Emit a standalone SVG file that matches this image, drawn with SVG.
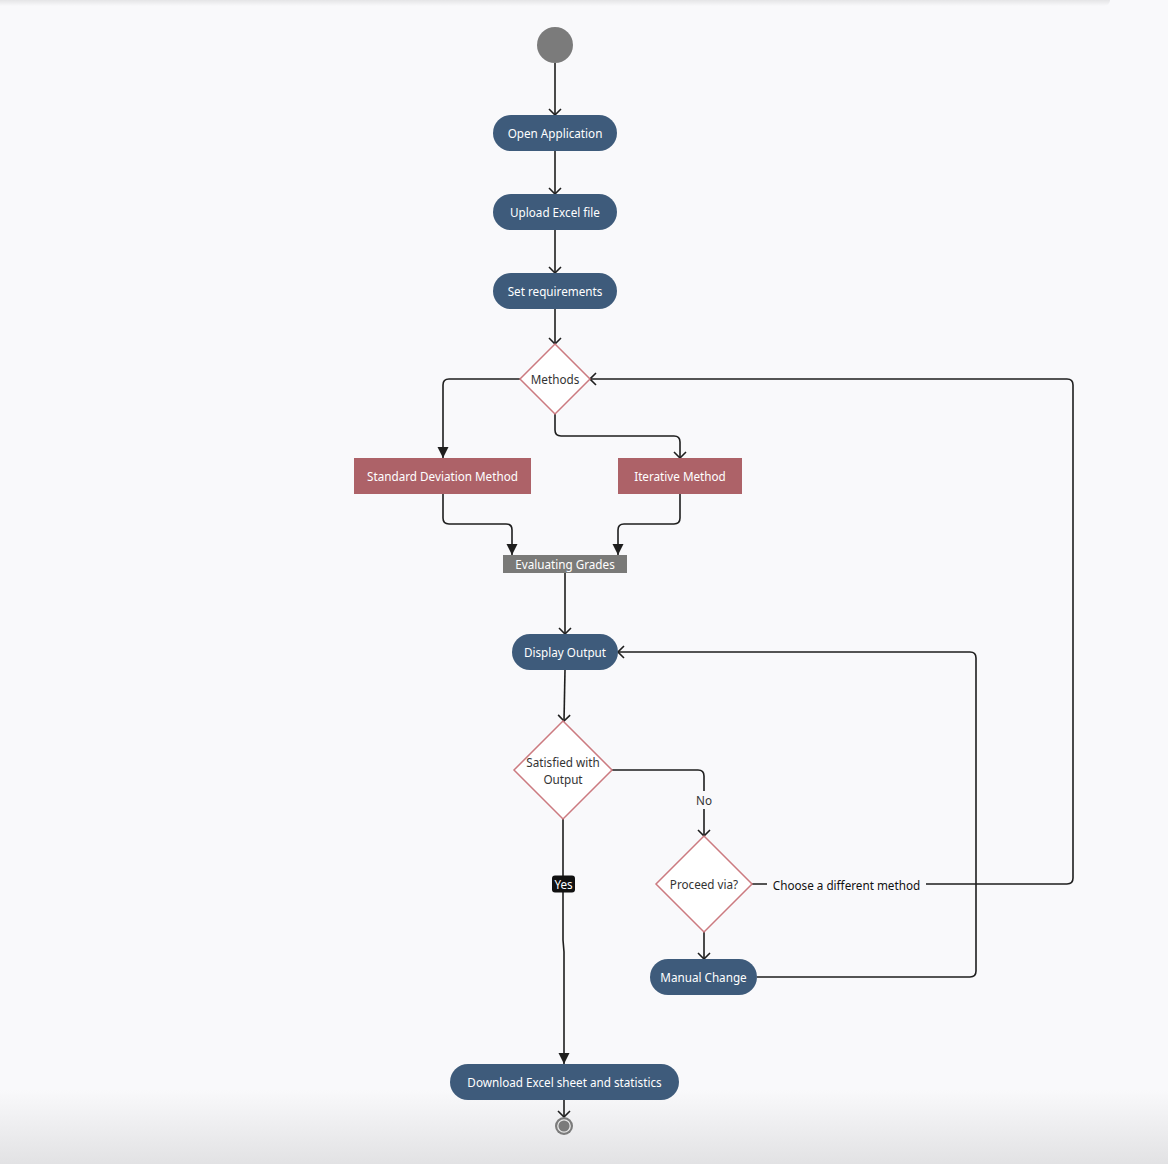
<svg xmlns="http://www.w3.org/2000/svg" width="1168" height="1164" viewBox="0 0 1168 1164">
<defs>
<linearGradient id="topShadow" x1="0" y1="0" x2="0" y2="1">
<stop offset="0" stop-color="#000" stop-opacity="0.22"/>
<stop offset="1" stop-color="#000" stop-opacity="0"/>
</linearGradient>
<linearGradient id="bottomFade" x1="0" y1="0" x2="0" y2="1">
<stop offset="0" stop-color="#f9f9fb"/>
<stop offset="1" stop-color="#e2e2e4"/>
</linearGradient>
<marker id="open" markerUnits="userSpaceOnUse" viewBox="0 0 8 14" refX="7" refY="7" markerWidth="8" markerHeight="14" orient="auto">
<path d="M1,1 L7,7 L1,13" fill="none" stroke="#1e1e1e" stroke-width="1.6"/>
</marker>
<marker id="filled" markerUnits="userSpaceOnUse" viewBox="0 0 11 12" refX="11" refY="6" markerWidth="11" markerHeight="12" orient="auto">
<path d="M0,0.5 L11,6 L0,11.5 z" fill="#1e1e1e"/>
</marker>
<style>
.edge{fill:none;stroke:#1e1e1e;stroke-width:1.6}
.act{fill:#3e5b7b}
.proc{fill:#ad6268}
.dec{fill:#fff;stroke:#cc7a80;stroke-width:1.5}
.lt{font-family:"Noto Sans","Open Sans","DejaVu Sans",sans-serif;font-size:11.7px;fill:#fff;text-anchor:middle;dominant-baseline:central}
.dt{font-family:"Noto Sans","Open Sans","DejaVu Sans",sans-serif;font-size:11.7px;fill:#333;text-anchor:middle;dominant-baseline:central}
.el{font-family:"Noto Sans","Open Sans","DejaVu Sans",sans-serif;font-size:11.7px;fill:#111;text-anchor:middle;dominant-baseline:central}
</style>
</defs>
<rect x="0" y="0" width="1168" height="1164" fill="#f9f9fb"/>
<rect x="0" y="1090" width="1168" height="74" fill="url(#bottomFade)"/>
<rect x="-10" y="-10" width="1120" height="16" rx="6" fill="url(#topShadow)"/>

<g id="connectors">
<path class="edge" d="M555,63 L555,115" marker-end="url(#open)"/>
<path class="edge" d="M555,151 L555,194" marker-end="url(#open)"/>
<path class="edge" d="M555,230 L555,273" marker-end="url(#open)"/>
<path class="edge" d="M555,309 L555,344" marker-end="url(#open)"/>
<path class="edge" d="M520,379 L449,379 Q443,379 443,385 L443,458" marker-end="url(#filled)"/>
<path class="edge" d="M555,414 L555,430 Q555,436 561,436 L674,436 Q680,436 680,442 L680,458" marker-end="url(#open)"/>
<path class="edge" d="M443,494 L443,518 Q443,524 449,524 L506,524 Q512,524 512,530 L512,555" marker-end="url(#filled)"/>
<path class="edge" d="M680,494 L680,518 Q680,524 674,524 L624,524 Q618,524 618,530 L618,555" marker-end="url(#filled)"/>
<path class="edge" d="M565,573 L565,634" marker-end="url(#open)"/>
<path class="edge" d="M565,670 L564,721" marker-end="url(#open)"/>
<path class="edge" d="M612,770 L698,770 Q704,770 704,776 L704,836" marker-end="url(#open)"/>
<path class="edge" d="M752,884 L1067,884 Q1073,884 1073,878 L1073,385 Q1073,379 1067,379 L590,379" marker-end="url(#open)"/>
<path class="edge" d="M704,932 L704,959" marker-end="url(#open)"/>
<path class="edge" d="M757,977 L970,977 Q976,977 976,971 L976,658 Q976,652 970,652 L618,652" marker-end="url(#open)"/>
<path class="edge" d="M563,819 L563,940 L564,952 L564,1064" marker-end="url(#filled)"/>
<path class="edge" d="M564,1100 L564,1117" marker-end="url(#open)"/>
<rect x="693" y="791" width="22" height="18" fill="#f9f9fb"/>
<text class="dt" x="704" y="800">No</text>
<rect x="767" y="876" width="159" height="18" fill="#f9f9fb"/>
<text class="el" x="846.500" y="885">Choose a different method</text>
<rect x="552" y="875.500" width="23" height="17" rx="3" fill="#111"/>
<text class="lt" x="563.500" y="884">Yes</text>
</g>

<g id="start"><circle cx="555" cy="45" r="18" fill="#7b7b7b"/></g>
<g id="open-application"><rect class="act" x="493" y="115" width="124" height="36" rx="18"/><text class="lt" x="555" y="133">Open Application</text></g>
<g id="upload-excel"><rect class="act" x="493" y="194" width="124" height="36" rx="18"/><text class="lt" x="555" y="212">Upload Excel file</text></g>
<g id="set-requirements"><rect class="act" x="493" y="273" width="124" height="36" rx="18"/><text class="lt" x="555" y="291">Set requirements</text></g>
<g id="methods"><polygon class="dec" points="555,344 590,379 555,414 520,379"/><text class="dt" x="555" y="379">Methods</text></g>
<g id="standard-deviation"><rect class="proc" x="354" y="458" width="177" height="36"/><text class="lt" x="442.500" y="476">Standard Deviation Method</text></g>
<g id="iterative"><rect class="proc" x="618" y="458" width="124" height="36"/><text class="lt" x="680" y="476">Iterative Method</text></g>
<g id="evaluating"><rect x="503" y="555" width="124" height="18" fill="#7a7a78"/><text class="lt" x="565" y="564">Evaluating Grades</text></g>
<g id="display-output"><rect class="act" x="512" y="634" width="106" height="36" rx="18"/><text class="lt" x="565" y="652">Display Output</text></g>
<g id="satisfied"><polygon class="dec" points="563,721 612,770 563,819 514,770"/><text class="dt" x="563" y="762">Satisfied with</text><text class="dt" x="563" y="779">Output</text></g>
<g id="proceed"><polygon class="dec" points="704,836 752,884 704,932 656,884"/><text class="dt" x="704" y="884">Proceed via?</text></g>
<g id="manual-change"><rect class="act" x="650" y="959" width="107" height="36" rx="18"/><text class="lt" x="703.500" y="977">Manual Change</text></g>
<g id="download"><rect class="act" x="450" y="1064" width="229" height="36" rx="18"/><text class="lt" x="564.500" y="1082">Download Excel sheet and statistics</text></g>
<g id="end"><circle cx="564" cy="1126" r="9" fill="#7b7b7b"/><circle cx="564" cy="1126" r="6.200" fill="#7b7b7b" stroke="#e8e8e8" stroke-width="1.300"/></g>
</svg>
